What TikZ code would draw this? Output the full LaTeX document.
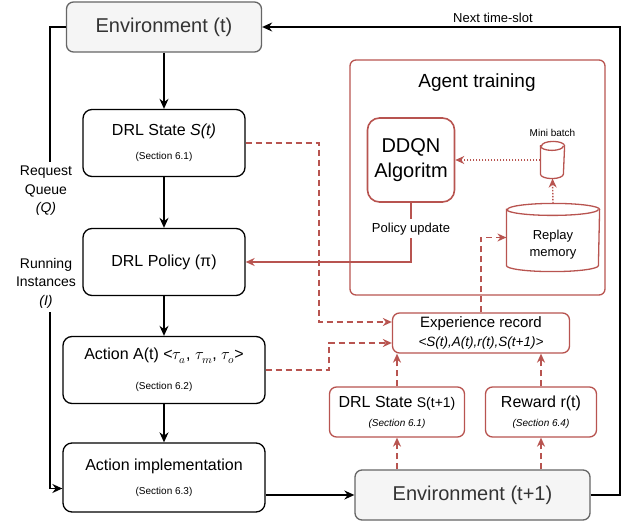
\documentclass[tikz,border=0pt]{standalone}
\usepackage{fontspec}
\usepackage{unicode-math}
\setmainfont{Liberation Sans}
\setmathfont{Latin Modern Math}
\usetikzlibrary{arrows.meta,positioning}

\definecolor{trainred}{HTML}{B85450}
\definecolor{envgray}{HTML}{F5F5F5}
\definecolor{envline}{HTML}{666666}
\definecolor{envtext}{HTML}{333333}
\newcommand{\fsz}[2]{\fontsize{#1}{#2}\selectfont}
% cylinder outline round a node: name, half width, ellipse radius
\newcommand{\drum}[3]{%
  \draw[trainred,line width=1.3pt]
    ([yshift=-#3pt]#1.north west) -- ([yshift=#3pt]#1.south west)
    arc[start angle=180,end angle=0,x radius=#2,y radius=#3]
    -- ([yshift=-#3pt]#1.north east)
    arc[start angle=0,end angle=-180,x radius=#2,y radius=#3] -- cycle;
  \draw[trainred,line width=1.3pt] ([yshift=-#3pt]#1.north west)
    arc[start angle=180,end angle=0,x radius=#2,y radius=#3];}

\begin{document}
\begin{tikzpicture}[x=1pt,y=-1pt,
    stepnode/.style={draw,line width=1.3pt,rounded corners=9pt,fill=white,align=center,
      minimum width=162pt,minimum height=67pt,inner sep=2pt,font=\fsz{16}{20}},
    envnode/.style={draw=envline,fill=envgray,text=envtext,line width=1.3pt,
      rounded corners=7pt,minimum height=50pt,font=\fsz{20}{24}},
    rednode/.style={draw=trainred,line width=1.3pt,rounded corners=7pt,fill=white,
      align=center,minimum height=50pt,inner sep=2pt,font=\fsz{16}{19}},
    store/.style={inner sep=0pt,outer sep=0.6pt},
    flow/.style={-{Stealth[length=10pt,width=9pt]},line width=1.3pt},
    redflow/.style={-{Stealth[length=9pt,width=8pt]},draw=trainred,line width=1.4pt},
    reddash/.style={redflow,line width=1.6pt,dash pattern=on 6pt off 4pt},
    reddot/.style={redflow,dash pattern=on 1.5pt off 1.5pt},
  ]
  \useasboundingbox (0,0) rectangle (633,524);

  % main loop
  \node[envnode,minimum width=195pt] (envt) at (164,27) {Environment (t)};
  \node[stepnode] (state) at (164,143) {DRL State \textit{S(t)}\\[4pt]{\fsz{10}{12}(Section 6.1)}};
  \node[stepnode] (policy) at (164,262) {DRL Policy (π)};
  \node[stepnode,minimum width=202pt] (action) at (164,370)
    {Action A(t) <$\tau_{a}$, $\tau_{m}$, $\tau_{o}$>\\[10pt]{\fsz{10}{12}(Section 6.2)}};
  \node[stepnode,minimum width=202pt,minimum height=69pt] (impl) at (164,477.5)
    {Action implementation\\[4pt]{\fsz{10}{12}(Section 6.3)}};
  \node[envnode,minimum width=235pt] (envt1) at (472.5,495) {Environment (t+1)};

  % agent training
  \node[draw=trainred,line width=1.3pt,rounded corners=6pt,minimum width=255pt,
    minimum height=235pt] (train) at (477.5,177.5) {};
  \node[font=\fsz{19}{22}] (traintitle) at (477,83) {Agent training};
  \node[rednode,line width=1.6pt,rounded corners=12pt,minimum width=87pt,minimum height=84pt,
    font=\fsz{20}{25}] (ddqn) at (411,160) {DDQN\\Algoritm};
  \node[store,minimum width=23pt,minimum height=36pt,
    label={[font=\fsz{10}{12},label distance=1pt]above:Mini batch}] (minib) at (552.5,160) {};
  \node[store,minimum width=92pt,minimum height=67pt,
    label={[font=\fsz{13}{17},align=center,yshift=-7pt]center:Replay\\memory}] (replay) at (553,237.5) {};
  \drum{minib}{11.5}{4.5}
  \drum{replay}{46}{6}

  % experience
  \node[rednode,minimum width=177pt,minimum height=40pt,font=\fsz{15}{19}] (exp) at (481,333)
    {Experience record\\{\fsz{13.5}{16}\textit{<S(t),A(t),r(t),S(t+1)>}}};
  \node[rednode,minimum width=135pt] (state1) at (397,412)
    {DRL State {\fsz{14}{16}S(t+1)}\\{\fsz{10}{12}\textit{(Section 6.1)}}};
  \node[rednode,minimum width=111pt] (reward) at (541,412)
    {Reward r(t)\\{\fsz{10}{12}\textit{(Section 6.4)}}};

  % black connectors
  \draw[flow] (envt) -- (state);
  \draw[flow] (state) -- (policy);
  \draw[flow] (policy) -- (action);
  \draw[flow] (action) -- (impl);
  \draw[flow] (impl.east |- envt1.west) -- (envt1.west);
  \coordinate (loopr) at (620,0);
  \draw[flow] (envt1.east) -- (envt1.east -| loopr) -- (loopr |- envt.east)
    -- node[pos=0.355,above,font=\fsz{13}{16}] (nextlabel) {Next time-slot} (envt.east);
  \coordinate (loopl) at (50,0);
  \coordinate (implin) at ([yshift=-11pt]impl.west);
  \draw[flow] (envt.west) -- (envt.west -| loopl) -- (loopl |- implin) -- (implin);
  \node[fill=white,font=\fsz{14}{18.5},align=center,inner sep=4pt] (qlabel) at (46,237)
    {Request\\Queue\\\textit{(Q)}\\[37pt]Running\\Instances\\\textit{(I)}};

  % red connectors
  \coordinate (sbend) at (319,0);
  \coordinate (abend) at (329,0);
  \coordinate (expin1) at ([yshift=11pt]exp.west);
  \coordinate (expin2) at ([yshift=-10pt]exp.west);
  \draw[reddash] (state.east) -- (state.east -| sbend) -- (sbend |- expin1) -- (expin1);
  \draw[reddash] (action.east) -- (action.east -| abend) -- (abend |- expin2) -- (expin2);
  \draw[reddash] (exp.north) -- (exp.north |- replay.west) -- (replay.west);
  \draw[reddot] (replay.north) -- (minib.south);
  \draw[reddot] (minib.west |- ddqn.east) -- (ddqn.east);
  \draw[redflow] (ddqn.south) |- node[pos=0.22,fill=white,text=black,font=\fsz{13}{16}] (updlabel) {Policy update} (policy.east);
  \draw[reddash] (state1.north) -- (state1.north |- exp.south);
  \draw[reddash] (reward.north) -- (reward.north |- exp.south);
  \draw[reddash] (envt1.north -| state1) -- (state1.south);
  \draw[reddash] (envt1.north -| reward) -- (reward.south);
\end{tikzpicture}
\end{document}
